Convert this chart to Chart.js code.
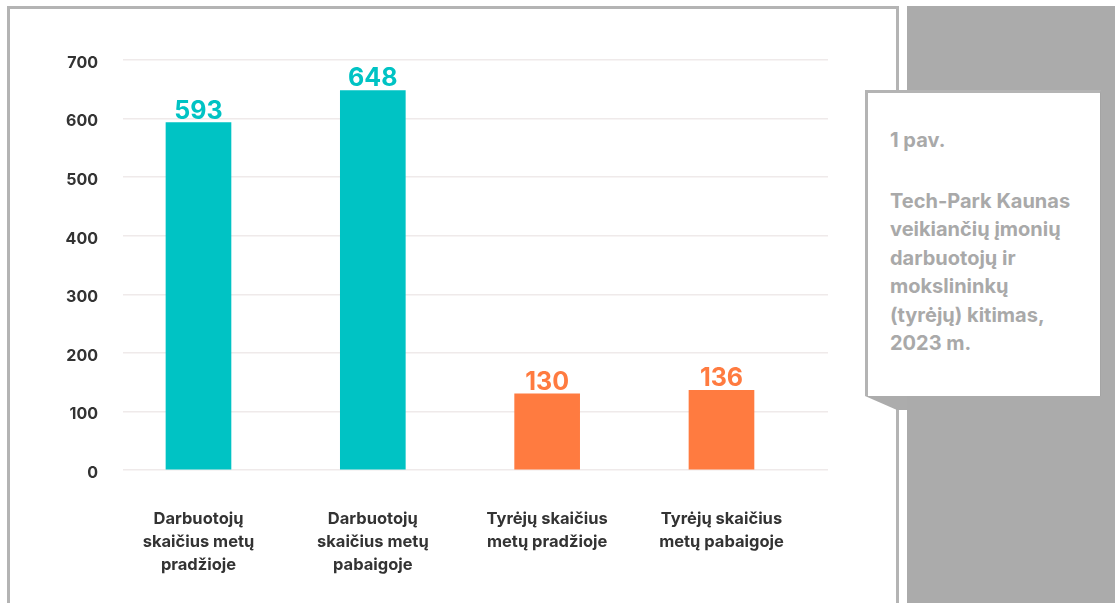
<!DOCTYPE html>
<html>
<head>
<meta charset="utf-8">
<script src="https://cdn.jsdelivr.net/npm/chart.js@4.4.1/dist/chart.umd.min.js"></script>
<style>
  html, body { margin: 0; padding: 0; background: #fff; }
  body { width: 1115px; height: 603px; position: relative; overflow: hidden; font-family: Inter, "Noto Sans", sans-serif; }
  #panel { position: absolute; left: 7px; top: 6px; width: 886px; height: 620px; border: 3px solid #b4b4b4; background: #fff; }
  #chart { position: absolute; left: 0; top: 0; }
  #side { position: absolute; left: 907px; top: 6px; right: 0; bottom: 0; background: #ababab; }
  #fold { position: absolute; left: 865px; top: 396px; width: 42px; height: 14px; background: #acacac;
          clip-path: polygon(0 0, 100% 0, 100% 100%, 32px 100%); }
  #note { position: absolute; left: 865px; top: 90px; width: 232px; height: 303px; background: #fff;
          border-left: 3px solid #b4b4b4; border-top: 3px solid #b4b4b4; border-right: 1px solid #a4a4a4;
          color: #a9a9a9; font-weight: 700; font-size: 20px; line-height: 28.5px; }
  #note p { margin: 0; padding-left: 22px; }
</style>
</head>
<body>
<div id="panel"></div>
<canvas id="chart" width="1115" height="603"></canvas>
<div id="side"></div>
<div id="fold"></div>
<div id="note">
  <p style="margin-top:33px">1 pav.</p>
  <p style="margin-top:32px">Tech-Park Kaunas<br>veikiančių įmonių<br>darbuotojų ir<br>mokslininkų<br>(tyrėjų) kitimas,<br>2023 m.</p>
</div>
<script>
const categories = [
  ["Darbuotojų", "skaičius metų", "pradžioje"],
  ["Darbuotojų", "skaičius metų", "pabaigoje"],
  ["Tyrėjų skaičius", "metų pradžioje"],
  ["Tyrėjų skaičius", "metų pabaigoje"]
]
const values = [593, 648, 130, 136]
const barColors = ["#00c3c4", "#00c3c4", "#ff7b40", "#ff7b40"]
const yTicks = [0, 100, 200, 300, 400, 500, 600, 700]

const valueLabels = {
  id: "valueLabels",
  afterDatasetsDraw(chart) {
    const ctx = chart.ctx
    const meta = chart.getDatasetMeta(0)
    ctx.save()
    ctx.font = "700 25px Inter"
    ctx.textAlign = "center"
    ctx.textBaseline = "alphabetic"
    meta.data.forEach((bar, i) => {
      ctx.fillStyle = barColors[i]
      ctx.fillText(String(values[i]), bar.x, bar.y - 4)
    })
    ctx.restore()
  }
}

new Chart(document.getElementById("chart"), {
  type: "bar",
  data: {
    datasets: [{
      data: values.map((v, i) => ({ x: i, y: v })),
      backgroundColor: barColors,
      barThickness: 65
    }]
  },
  plugins: [valueLabels],
  options: {
    responsive: false,
    animation: false,
    layout: { padding: { top: 60, right: 287, left: 0, bottom: 0 } },
    plugins: { legend: { display: false }, tooltip: { enabled: false } },
    scales: {
      x: {
        type: "linear",
        offset: false,
        min: -0.433,
        max: 3.611,
        grid: { display: false },
        border: { display: false },
        afterFit: (axis) => { axis.height = 133 },
        afterBuildTicks: (axis) => { axis.ticks = categories.map((_, i) => ({ value: i })) },
        ticks: {
          padding: 30,
          color: "#333",
          font: { family: "Inter", size: 16.5, weight: 700, lineHeight: 1.38 },
          maxRotation: 0,
          autoSkip: false,
          callback: (v) => categories[v]
        }
      },
      y: {
        min: 0,
        max: 700,
        grid: { color: "#efeaea", lineWidth: 1.5, drawTicks: false },
        border: { display: false },
        afterFit: (axis) => { axis.width = 123 },
        afterBuildTicks: (axis) => { axis.ticks = yTicks.map(v => ({ value: v })) },
        ticks: {
          padding: 25,
          labelOffset: 3,
          color: "#333",
          font: { family: "Inter", size: 16, weight: 700 }
        }
      }
    }
  }
})
</script>
</body>
</html>
